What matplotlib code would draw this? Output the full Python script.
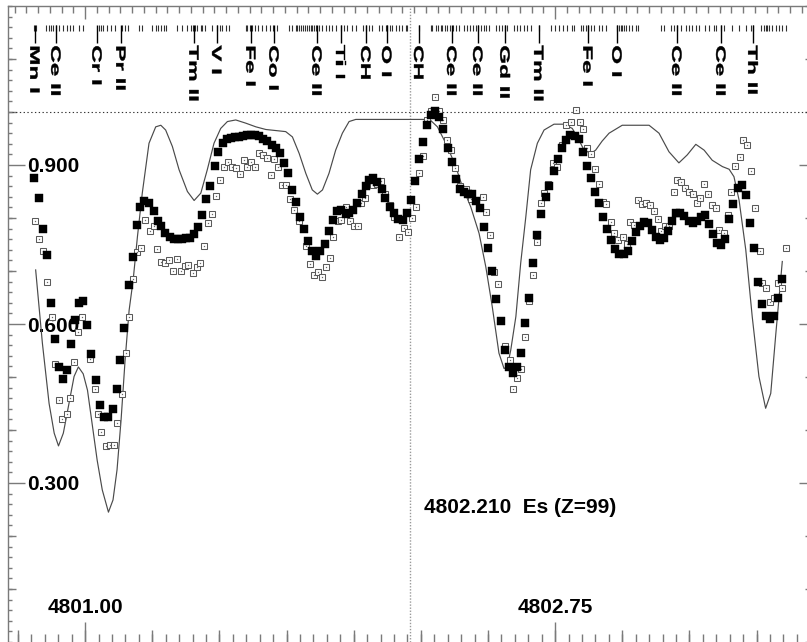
import matplotlib
matplotlib.use("Agg")
import matplotlib.pyplot as plt
from matplotlib.textpath import TextPath
from matplotlib.patches import PathPatch
from matplotlib.font_manager import FontProperties
from matplotlib.transforms import Affine2D, ScaledTranslation
from matplotlib.ticker import FixedLocator, MultipleLocator, FormatStrFormatter, NullFormatter

plt.rcParams['font.family'] = ['Liberation Sans', 'DejaVu Sans']
plt.rcParams['font.weight'] = 'bold'

# ---------------- data ----------------
synth_wl = [4800.816, 4800.841, 4800.866, 4800.885, 4800.901, 4800.919, 4800.940, 4800.959,
            4800.975, 4800.993, 4801.009, 4801.027, 4801.045, 4801.064, 4801.087, 4801.104,
            4801.119, 4801.134, 4801.149, 4801.164, 4801.179, 4801.195, 4801.213, 4801.238,
            4801.263, 4801.282, 4801.300, 4801.325, 4801.350, 4801.381, 4801.406, 4801.431,
            4801.455, 4801.480, 4801.505, 4801.530, 4801.561, 4801.598, 4801.636, 4801.673,
            4801.710, 4801.747, 4801.772, 4801.797, 4801.822, 4801.846, 4801.865, 4801.884,
            4801.908, 4801.933, 4801.958, 4801.983, 4802.008, 4802.206, 4802.262, 4802.287,
            4802.312, 4802.349, 4802.380, 4802.405, 4802.436, 4802.467, 4802.492, 4802.516,
            4802.541, 4802.560, 4802.572, 4802.585, 4802.604, 4802.622, 4802.641, 4802.659,
            4802.684, 4802.709, 4802.746, 4802.783, 4802.814, 4802.833, 4802.858, 4802.883,
            4802.901, 4802.925, 4802.951, 4803.000, 4803.050, 4803.100, 4803.137, 4803.174,
            4803.211, 4803.242, 4803.274, 4803.305, 4803.335, 4803.373, 4803.398, 4803.416,
            4803.435, 4803.460, 4803.484, 4803.509, 4803.534, 4803.553, 4803.572, 4803.596]
synth_fl = [0.702, 0.564, 0.450, 0.394, 0.370, 0.394, 0.450, 0.501,
            0.519, 0.506, 0.475, 0.409, 0.343, 0.287, 0.245, 0.268,
            0.325, 0.419, 0.532, 0.626, 0.683, 0.765, 0.847, 0.941,
            0.972, 0.975, 0.966, 0.935, 0.891, 0.850, 0.833, 0.847,
            0.891, 0.941, 0.969, 0.982, 0.985, 0.979, 0.972, 0.967,
            0.965, 0.963, 0.953, 0.922, 0.884, 0.853, 0.845, 0.853,
            0.884, 0.928, 0.960, 0.982, 0.986, 0.986, 0.986, 0.984,
            0.972, 0.935, 0.897, 0.859, 0.821, 0.771, 0.708, 0.633,
            0.545, 0.516, 0.519, 0.551, 0.614, 0.715, 0.802, 0.891,
            0.941, 0.966, 0.977, 0.977, 0.969, 0.953, 0.928, 0.922,
            0.928, 0.945, 0.960, 0.975, 0.975, 0.975, 0.960, 0.925,
            0.904, 0.919, 0.939, 0.928, 0.909, 0.897, 0.892, 0.878,
            0.834, 0.740, 0.614, 0.501, 0.441, 0.469, 0.582, 0.718]

obs1_wl = [4800.810, 4800.829, 4800.845, 4800.860, 4800.873, 4800.888, 4800.904, 4800.918,
           4800.933, 4800.948, 4800.963, 4800.978, 4800.993, 4801.009, 4801.023, 4801.041,
           4801.057, 4801.072, 4801.087, 4801.103, 4801.117, 4801.131, 4801.146, 4801.163,
           4801.178, 4801.192, 4801.205, 4801.221, 4801.238, 4801.256, 4801.271, 4801.284,
           4801.299, 4801.315, 4801.330, 4801.345, 4801.360, 4801.375, 4801.390, 4801.405,
           4801.421, 4801.435, 4801.449, 4801.465, 4801.483, 4801.496, 4801.514, 4801.529,
           4801.544, 4801.558, 4801.573, 4801.588, 4801.603, 4801.618, 4801.633, 4801.648,
           4801.663, 4801.678, 4801.697, 4801.712, 4801.727, 4801.742, 4801.757, 4801.772,
           4801.787, 4801.800, 4801.815, 4801.831, 4801.846, 4801.861, 4801.876, 4801.892,
           4801.908, 4801.923, 4801.939, 4801.954, 4801.971, 4801.984, 4801.999, 4802.014,
           4802.030, 4802.045, 4802.057, 4802.073, 4802.088, 4802.105, 4802.117, 4802.136,
           4802.152, 4802.166, 4802.184, 4802.199, 4802.213, 4802.229, 4802.243, 4802.258,
           4802.272, 4802.287, 4802.303, 4802.318, 4802.333, 4802.350, 4802.366, 4802.382,
           4802.396, 4802.411, 4802.426, 4802.441, 4802.456, 4802.472, 4802.487, 4802.502,
           4802.516, 4802.531, 4802.548, 4802.563, 4802.577, 4802.593, 4802.609, 4802.623,
           4802.639, 4802.654, 4802.669, 4802.683, 4802.699, 4802.715, 4802.729, 4802.745,
           4802.760, 4802.776, 4802.792, 4802.807, 4802.823, 4802.838, 4802.854, 4802.868,
           4802.883, 4802.898, 4802.913, 4802.927, 4802.942, 4802.957, 4802.972, 4802.987,
           4803.006, 4803.021, 4803.035, 4803.051, 4803.065, 4803.080, 4803.097, 4803.111,
           4803.125, 4803.141, 4803.157, 4803.171, 4803.185, 4803.200, 4803.215, 4803.231,
           4803.248, 4803.264, 4803.277, 4803.293, 4803.309, 4803.324, 4803.339, 4803.354,
           4803.369, 4803.383, 4803.398, 4803.414, 4803.431, 4803.446, 4803.462, 4803.477,
           4803.490, 4803.507, 4803.521, 4803.535, 4803.550, 4803.566, 4803.581, 4803.596]
obs1_fl = [0.875, 0.837, 0.779, 0.730, 0.639, 0.571, 0.518, 0.497,
           0.513, 0.562, 0.608, 0.640, 0.643, 0.598, 0.543, 0.494,
           0.448, 0.425, 0.425, 0.439, 0.477, 0.533, 0.592, 0.673,
           0.726, 0.786, 0.820, 0.832, 0.828, 0.813, 0.795, 0.784,
           0.771, 0.765, 0.761, 0.760, 0.761, 0.762, 0.763, 0.769,
           0.783, 0.806, 0.836, 0.860, 0.899, 0.924, 0.941, 0.950,
           0.951, 0.952, 0.953, 0.955, 0.956, 0.957, 0.957, 0.955,
           0.950, 0.946, 0.938, 0.933, 0.923, 0.904, 0.885, 0.853,
           0.830, 0.802, 0.779, 0.756, 0.738, 0.728, 0.738, 0.751,
           0.775, 0.796, 0.813, 0.815, 0.808, 0.809, 0.815, 0.829,
           0.845, 0.860, 0.872, 0.875, 0.867, 0.854, 0.838, 0.821,
           0.809, 0.799, 0.796, 0.809, 0.834, 0.870, 0.912, 0.943,
           0.975, 0.994, 1.001, 0.990, 0.968, 0.933, 0.906, 0.874,
           0.855, 0.850, 0.845, 0.845, 0.832, 0.818, 0.783, 0.743,
           0.700, 0.647, 0.606, 0.551, 0.519, 0.508, 0.518, 0.545,
           0.602, 0.649, 0.715, 0.767, 0.807, 0.840, 0.860, 0.889,
           0.911, 0.932, 0.947, 0.957, 0.955, 0.950, 0.925, 0.899,
           0.876, 0.850, 0.829, 0.801, 0.780, 0.758, 0.742, 0.732,
           0.732, 0.738, 0.757, 0.774, 0.785, 0.792, 0.791, 0.777,
           0.765, 0.758, 0.762, 0.775, 0.795, 0.809, 0.809, 0.804,
           0.794, 0.790, 0.794, 0.801, 0.806, 0.788, 0.770, 0.752,
           0.749, 0.760, 0.798, 0.826, 0.856, 0.862, 0.843, 0.791,
           0.744, 0.679, 0.638, 0.616, 0.610, 0.616, 0.650, 0.685]

obs2_wl = [4800.813, 4800.828, 4800.845, 4800.860, 4800.875, 4800.888, 4800.904, 4800.915,
           4800.931, 4800.945, 4800.960, 4800.975, 4800.990, 4801.020, 4801.036, 4801.047,
           4801.061, 4801.077, 4801.092, 4801.107, 4801.120, 4801.139, 4801.153, 4801.164,
           4801.179, 4801.195, 4801.209, 4801.224, 4801.240, 4801.256, 4801.268, 4801.283,
           4801.298, 4801.313, 4801.329, 4801.343, 4801.356, 4801.372, 4801.385, 4801.400,
           4801.416, 4801.428, 4801.444, 4801.459, 4801.474, 4801.489, 4801.501, 4801.516,
           4801.531, 4801.546, 4801.561, 4801.576, 4801.591, 4801.603, 4801.619, 4801.634,
           4801.648, 4801.663, 4801.679, 4801.694, 4801.705, 4801.720, 4801.735, 4801.749,
           4801.764, 4801.779, 4801.796, 4801.822, 4801.837, 4801.854, 4801.869, 4801.881,
           4801.896, 4801.913, 4801.924, 4801.941, 4801.954, 4801.971, 4801.986, 4802.000,
           4802.015, 4802.029, 4802.044, 4802.058, 4802.072, 4802.088, 4802.103, 4802.117,
           4802.134, 4802.150, 4802.167, 4802.188, 4802.203, 4802.217, 4802.231, 4802.245,
           4802.260, 4802.274, 4802.289, 4802.304, 4802.319, 4802.332, 4802.348, 4802.364,
           4802.378, 4802.395, 4802.420, 4802.436, 4802.480, 4802.494, 4802.507, 4802.523,
           4802.538, 4802.565, 4802.582, 4802.595, 4802.609, 4802.624, 4802.639, 4802.654,
           4802.669, 4802.682, 4802.697, 4802.709, 4802.724, 4802.741, 4802.756, 4802.774,
           4802.790, 4802.811, 4802.829, 4802.844, 4802.855, 4802.870, 4802.884, 4802.900,
           4802.914, 4802.929, 4802.941, 4802.958, 4802.971, 4802.986, 4803.004, 4803.018,
           4803.030, 4803.045, 4803.059, 4803.074, 4803.090, 4803.105, 4803.117, 4803.132,
           4803.146, 4803.161, 4803.175, 4803.192, 4803.204, 4803.219, 4803.234, 4803.249,
           4803.265, 4803.280, 4803.291, 4803.306, 4803.321, 4803.335, 4803.350, 4803.362,
           4803.378, 4803.393, 4803.406, 4803.421, 4803.439, 4803.451, 4803.466, 4803.480,
           4803.496, 4803.512, 4803.522, 4803.537, 4803.551, 4803.566, 4803.581, 4803.596,
           4803.609]
obs2_fl = [0.794, 0.761, 0.738, 0.679, 0.613, 0.524, 0.457, 0.421,
           0.430, 0.460, 0.528, 0.585, 0.613, 0.534, 0.477, 0.430,
           0.396, 0.369, 0.372, 0.372, 0.414, 0.467, 0.545, 0.613,
           0.684, 0.736, 0.743, 0.796, 0.775, 0.785, 0.741, 0.717,
           0.715, 0.721, 0.700, 0.722, 0.700, 0.709, 0.711, 0.697,
           0.707, 0.716, 0.747, 0.790, 0.808, 0.842, 0.872, 0.896,
           0.906, 0.896, 0.894, 0.883, 0.909, 0.897, 0.906, 0.896,
           0.922, 0.919, 0.913, 0.882, 0.911, 0.896, 0.863, 0.862,
           0.835, 0.815, 0.795, 0.747, 0.713, 0.692, 0.699, 0.688,
           0.707, 0.725, 0.765, 0.794, 0.796, 0.821, 0.795, 0.785,
           0.785, 0.828, 0.838, 0.869, 0.862, 0.864, 0.870, 0.845,
           0.825, 0.802, 0.764, 0.782, 0.774, 0.800, 0.821, 0.885,
           0.917, 0.985, 1.002, 1.028, 1.002, 0.985, 0.948, 0.928,
           0.894, 0.861, 0.855, 0.835, 0.839, 0.811, 0.767, 0.699,
           0.675, 0.558, 0.533, 0.477, 0.498, 0.516, 0.575, 0.644,
           0.692, 0.754, 0.829, 0.847, 0.865, 0.903, 0.896, 0.938,
           0.975, 0.982, 1.004, 0.981, 0.967, 0.933, 0.920, 0.892,
           0.864, 0.830, 0.826, 0.792, 0.772, 0.758, 0.765, 0.751,
           0.792, 0.786, 0.834, 0.826, 0.828, 0.824, 0.814, 0.799,
           0.775, 0.784, 0.784, 0.849, 0.872, 0.867, 0.856, 0.849,
           0.845, 0.829, 0.838, 0.865, 0.845, 0.825, 0.818, 0.777,
           0.771, 0.805, 0.849, 0.899, 0.916, 0.948, 0.938, 0.889,
           0.818, 0.738, 0.677, 0.667, 0.641, 0.649, 0.677, 0.668,
           0.743]

# unlabeled line positions (top tick row)
line_wl = [4800.808, 4800.819, 4800.854, 4800.866, 4800.873, 4800.881, 4800.891, 4800.903,
           4800.916, 4800.934, 4800.944, 4800.955, 4800.978, 4800.993, 4801.050, 4801.060,
           4801.068, 4801.083, 4801.096, 4801.112, 4801.137, 4801.149, 4801.158, 4801.199,
           4801.213, 4801.251, 4801.263, 4801.273, 4801.282, 4801.292, 4801.300, 4801.344,
           4801.360, 4801.381, 4801.393, 4801.400, 4801.409, 4801.418, 4801.431, 4801.437,
           4801.445, 4801.474, 4801.493, 4801.501, 4801.511, 4801.524, 4801.536, 4801.598,
           4801.604, 4801.613, 4801.623, 4801.633, 4801.645, 4801.660, 4801.673, 4801.687,
           4801.700, 4801.716, 4801.759, 4801.772, 4801.784, 4801.790, 4801.797, 4801.803,
           4801.812, 4801.819, 4801.828, 4801.834, 4801.840, 4801.846, 4801.853, 4801.861,
           4801.871, 4801.884, 4801.896, 4801.908, 4801.921, 4801.933, 4801.952, 4801.964,
           4801.977, 4801.995, 4802.008, 4802.033, 4802.045, 4802.057, 4802.070, 4802.095,
           4802.107, 4802.119, 4802.126, 4802.134, 4802.144, 4802.157, 4802.169, 4802.181,
           4802.194, 4802.200, 4802.243, 4802.287, 4802.293, 4802.306, 4802.315, 4802.324,
           4802.330, 4802.340, 4802.349, 4802.358, 4802.370, 4802.380, 4802.392, 4802.411,
           4802.423, 4802.432, 4802.444, 4802.454, 4802.464, 4802.473, 4802.485, 4802.494,
           4802.504, 4802.529, 4802.541, 4802.554, 4802.564, 4802.572, 4802.597, 4802.610,
           4802.618, 4802.634, 4802.647, 4802.659, 4802.690, 4802.734, 4802.750, 4802.765,
           4802.780, 4802.796, 4802.812, 4802.821, 4802.845, 4802.854, 4802.864, 4802.874,
           4802.883, 4802.895, 4802.914, 4802.926, 4802.938, 4802.982, 4802.988, 4802.994,
           4803.000, 4803.007, 4803.013, 4803.025, 4803.038, 4803.050, 4803.060, 4803.143,
           4803.156, 4803.180, 4803.193, 4803.205, 4803.218, 4803.236, 4803.249, 4803.261,
           4803.274, 4803.286, 4803.308, 4803.323, 4803.342, 4803.348, 4803.367, 4803.379,
           4803.410, 4803.435, 4803.460, 4803.478, 4803.488, 4803.516, 4803.528, 4803.534,
           4803.540, 4803.547, 4803.559, 4803.571, 4803.584, 4803.596, 4803.609]

# identified lines
id_wl = [4800.814, 4800.892, 4801.045, 4801.134, 4801.406, 4801.491, 4801.618, 4801.704,
         4801.864, 4801.953, 4802.046, 4802.124, 4802.243, 4802.366, 4802.463, 4802.564,
         4802.690, 4802.873, 4802.981, 4803.204, 4803.368, 4803.487]
id_labels = ["Mn I", "Ce II", "Cr I", "Pr II", "Tm II", "V I", "Fe I", "Co I",
             "Ce II", "Ti I", "CH", "O I", "CH", "Ce II", "Ce II", "Gd II",
             "Tm II", "Fe I", "O I", "Ce II", "Ce II", "Th II"]

target_wl = 4802.210
target_text = "4802.210  Es (Z=99)"
x_labeled = [4801.00, 4802.75]
top_step = 1.75 / 40
y_labeled = [0.3, 0.6, 0.9]
y_medium = [0.1, 0.2, 0.4, 0.5, 0.7, 0.8, 1.0, 1.1]

# ---------------- figure ----------------
W, H = 807, 642
fig = plt.figure(figsize=(W / 100, H / 100), dpi=100)
ax = fig.add_axes([8 / W, 0, 799 / W, 636 / H])
ax.set_xlim(4800.713, 4803.688)
ax.set_ylim(0.0, 1.2)
PT = 0.72  # points per pixel
axis_gray = '#7a7a7a'

for s in ['right', 'bottom']:
    ax.spines[s].set_visible(False)
for s in ['left', 'top']:
    ax.spines[s].set_color(axis_gray)
    ax.spines[s].set_linewidth(1.0)

# reference lines
ax.axhline(1.0, color='#333333', lw=0.8, ls=(0, (1.2, 2.2)), zorder=1)
ax.axvline(target_wl, color='#9a9a9a', lw=1.0, ls=(0, (1, 1.2)), zorder=1)

# spectra
ax.plot(synth_wl, synth_fl, color='#4a4a4a', lw=0.85, zorder=2)
ax.plot(obs2_wl, obs2_fl, ls='none', marker='s', ms=3.7, mfc='white', mec='#5a5a5a', mew=0.75, zorder=3)
ax.plot(obs2_wl, obs2_fl, ls='none', marker='s', ms=0.9, mfc='#6a6a6a', mec='none', zorder=3)
ax.plot(obs1_wl, obs1_fl, ls='none', marker='s', ms=5.3, mfc='black', mec='black', mew=0.3, zorder=4)

# ---- y axis ----
ax.yaxis.set_major_locator(FixedLocator(y_labeled))
ax.yaxis.set_major_formatter(FormatStrFormatter('%.3f'))
ax.yaxis.set_minor_locator(MultipleLocator(0.02))
ax.tick_params(axis='y', which='major', direction='in', length=17 * PT, width=1,
               color=axis_gray, pad=-19 * PT, labelsize=15, left=True, right=False)
ax.tick_params(axis='y', which='minor', direction='in', length=4 * PT, width=1,
               color=axis_gray, left=True, right=False)
for lab in ax.get_yticklabels():
    lab.set_horizontalalignment('left')
    lab.set_fontweight('bold')

secl = ax.secondary_yaxis('left')
secl.spines['left'].set_visible(False)
secl.yaxis.set_major_locator(FixedLocator(y_medium))
secl.yaxis.set_major_formatter(NullFormatter())
secl.tick_params(axis='y', which='major', direction='in', length=8 * PT, width=1, color=axis_gray)
secl.yaxis.set_minor_locator(FixedLocator([]))

secr = ax.secondary_yaxis('right')
secr.spines['right'].set_visible(False)
secr.yaxis.set_major_locator(FixedLocator(y_labeled))
secr.yaxis.set_major_formatter(NullFormatter())
secr.yaxis.set_minor_locator(MultipleLocator(0.1))
secr.tick_params(axis='y', which='major', direction='in', length=8 * PT, width=1, color=axis_gray)
secr.tick_params(axis='y', which='minor', direction='in', length=2 * PT, width=1, color=axis_gray)

# ---- x axis (bottom) ----
ax.xaxis.set_major_locator(FixedLocator(x_labeled))
ax.xaxis.set_major_formatter(FormatStrFormatter('%.2f'))
ax.xaxis.set_minor_locator(MultipleLocator(0.05))
ax.tick_params(axis='x', which='major', direction='in', length=20 * PT, width=1,
               color=axis_gray, pad=-44 * PT, labelsize=15, bottom=True, top=False)
ax.tick_params(axis='x', which='minor', direction='in', length=8 * PT, width=1,
               color=axis_gray, bottom=True, top=False)
for lab in ax.get_xticklabels():
    lab.set_fontweight('bold')

secb = ax.secondary_xaxis('bottom')
secb.spines['bottom'].set_visible(False)
secb.xaxis.set_major_locator(MultipleLocator(0.25))
secb.xaxis.set_major_formatter(NullFormatter())
secb.xaxis.set_minor_locator(FixedLocator([]))
secb.tick_params(axis='x', which='major', direction='in', length=12 * PT, width=1, color=axis_gray)

# ---- x axis (top) ----
sect = ax.secondary_xaxis('top')
sect.spines['top'].set_visible(False)
sect.xaxis.set_major_locator(FixedLocator(x_labeled))
sect.xaxis.set_major_formatter(NullFormatter())
sect.xaxis.set_minor_locator(MultipleLocator(top_step, offset=x_labeled[0]))
sect.tick_params(axis='x', which='major', direction='in', length=13 * PT, width=1, color=axis_gray)
sect.tick_params(axis='x', which='minor', direction='in', length=7 * PT, width=1, color=axis_gray)

# ---- line identifications ----
ax.vlines(line_wl, 1.153, 1.164, color='#303030', lw=0.8, zorder=2)
ax.vlines(id_wl, 1.131, 1.164, color='black', lw=1.0, zorder=2)

fp = FontProperties(family='Liberation Sans', weight='bold')
LBL_SIZE = 13.5   # pixel units
STRETCH = 1.8     # glyph stretch along the reading direction
CAP = 0.72 * LBL_SIZE
for wl, lab in zip(id_wl, id_labels):
    tp = TextPath((0, 0), lab, size=LBL_SIZE, prop=fp)
    tr = (Affine2D().scale(STRETCH, 1.0).rotate_deg(-90).translate(-CAP / 2, 0)
          + ScaledTranslation(wl, 1.126, ax.transData))
    fig.add_artist(PathPatch(tp, transform=tr, facecolor='black', edgecolor='black', lw=0.3))

# ---- annotation text ----
ax.text(4802.262, 0.243, target_text, fontsize=15, fontweight='bold', ha='left', va='baseline')

fig.savefig('out.png', dpi=100)
